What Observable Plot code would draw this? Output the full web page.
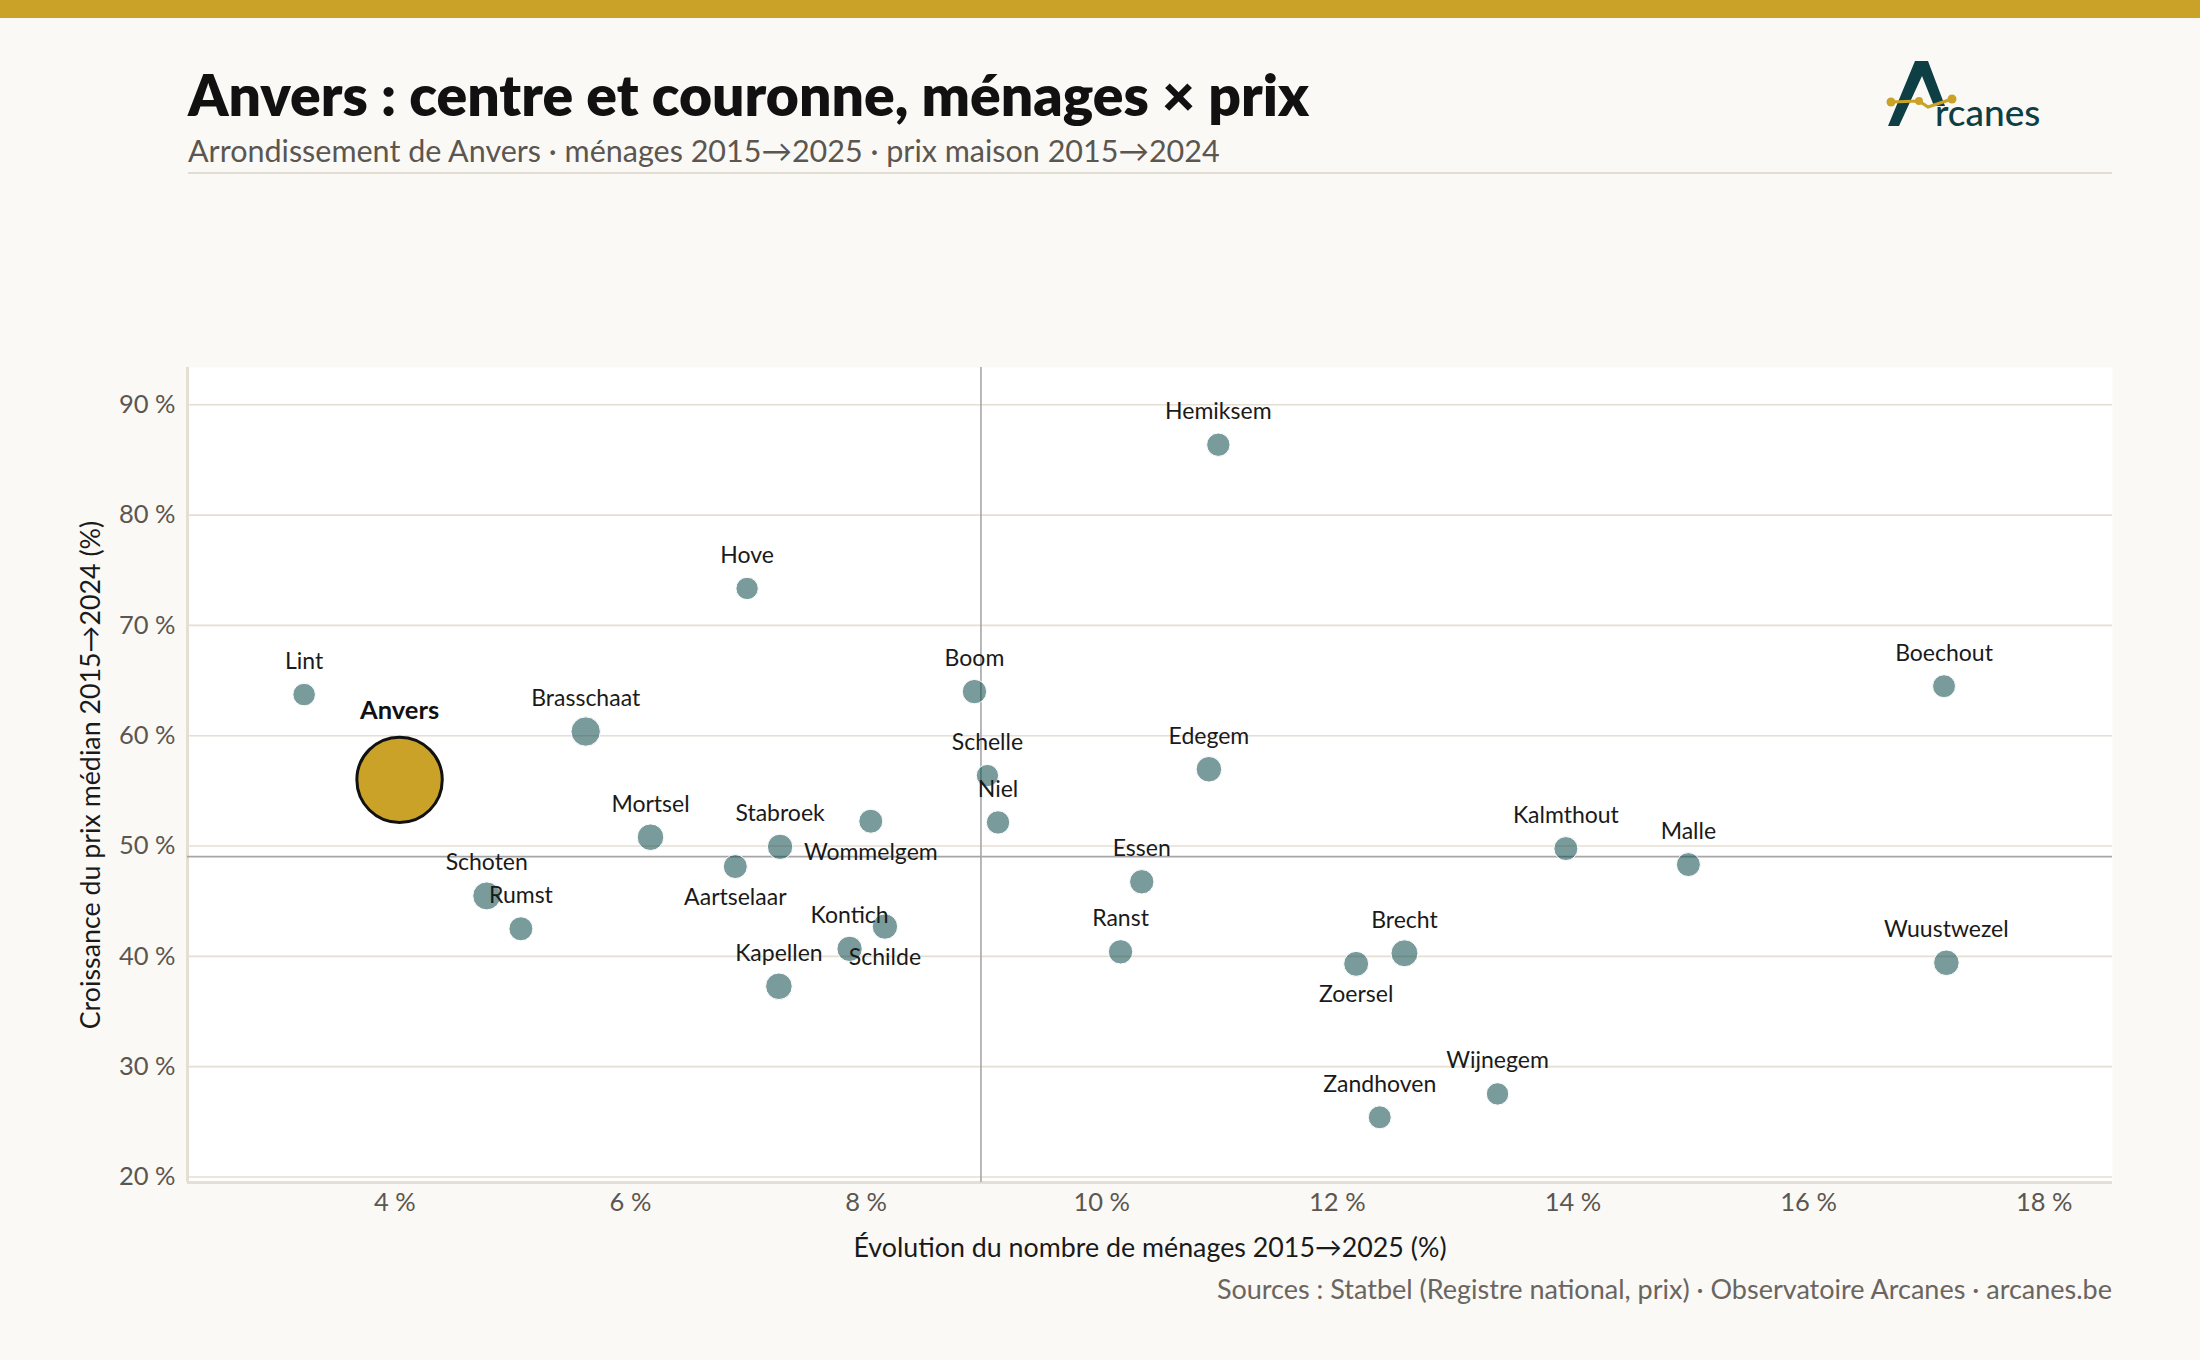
<!DOCTYPE html>
<html><head><meta charset="utf-8">
<script src="https://cdn.jsdelivr.net/npm/d3@7"></script>
<script src="https://cdn.jsdelivr.net/npm/@observablehq/plot@0.6"></script>
<style>
html,body{margin:0;padding:0;background:#faf9f6;}
body{width:2200px;height:1360px;position:relative;overflow:hidden;font-family:Lato,"Noto Sans",sans-serif;}
#topbar{position:absolute;left:0;top:0;width:2200px;height:18px;background:#c9a227;}
#title{position:absolute;left:188px;top:66px;font-size:57px;line-height:57px;font-weight:800;color:#111;white-space:nowrap;}
#subtitle{position:absolute;left:188px;top:135px;font-size:30.5px;line-height:30.5px;color:#5c5650;white-space:nowrap;}
#rule{position:absolute;left:188px;top:172px;width:1924px;height:2px;background:#e3ddd1;}
#caption{position:absolute;right:88px;top:1275px;font-size:27px;line-height:27px;color:#6b6560;white-space:nowrap;}
#chart{position:absolute;left:0;top:300px;}
#logo{position:absolute;left:0;top:0;}
</style></head>
<body>
<div id="topbar"></div>
<div id="title">Anvers : centre et couronne, ménages × prix</div>
<div id="subtitle">Arrondissement de Anvers · ménages 2015→2025 · prix maison 2015→2024</div>
<div id="rule"></div>
<svg id="logo" width="2200" height="140">
  <path d="M1888,126 L1915,61 L1928,61 L1945,106 L1934,106 L1922,76 L1899,126 Z" fill="#0d3f45"/>
  <polyline points="1891,102 1919,101 1928,107 1952,99" fill="none" stroke="#c9a227" stroke-width="3"/>
  <circle cx="1891" cy="102" r="4.5" fill="#c9a227"/>
  <circle cx="1919" cy="101" r="4" fill="#c9a227"/>
  <circle cx="1952" cy="99" r="4.5" fill="#c9a227"/>
  <text x="1935" y="126" font-family="Lato, sans-serif" font-size="37" font-weight="500" fill="#0d3f45">rcanes</text>
</svg>
<div id="chart"></div>
<div id="caption">Sources : Statbel (Registre national, prix) · Observatoire Arcanes · arcanes.be</div>
<script>
const communes = ["Anvers","Lint","Brasschaat","Mortsel","Aartselaar","Schoten","Rumst","Stabroek","Wommelgem","Niel","Kontich","Schilde","Kapellen","Hemiksem","Hove","Boom","Schelle","Edegem","Essen","Ranst","Boechout","Wuustwezel","Brecht","Zoersel","Kalmthout","Malle","Wijnegem","Zandhoven"];
const evolMenages = [4.04,3.23,5.62,6.17,6.89,4.78,5.07,7.27,8.04,9.12,7.86,8.16,7.26,10.99,6.99,8.92,9.03,10.91,10.34,10.16,17.15,17.17,12.57,12.16,13.94,14.98,13.36,12.36];
const croissancePrix = [56.0,63.73,60.38,50.8,48.14,45.48,42.5,49.93,52.25,52.14,40.68,42.7,37.29,86.38,73.35,64.0,56.39,56.96,46.76,40.41,64.49,39.42,40.28,39.32,49.77,48.32,27.53,25.41];
const menages2025 = [240000,3720,16000,10600,6000,13200,6000,8400,6000,5000,8400,8400,10600,5000,3400,6700,3300,8750,6700,6700,4350,8750,11300,7700,6000,6000,3500,4350];
const labelsBelow = ["Aartselaar","Wommelgem","Schilde","Zoersel"];
const centre = "Anvers";
const xTicks = [4,6,8,10,12,14,16,18];
const yTicks = [20,30,40,50,60,70,80,90];
const xDomain = [2.24, 18.58];
const yDomain = [19.5, 93.38];

const data = communes.map((c,i)=>({commune:c, x:evolMenages[i], y:croissancePrix[i], m:menages2025[i]}));
const autres = data.filter(d=>d.commune!==centre);
const ville = data.filter(d=>d.commune===centre);
const medX = d3.median(evolMenages), medY = d3.median(croissancePrix);
const pct = d => d + "\u00a0%";
const OFFSET = 14000;

const plot = Plot.plot({
  width: 2200, height: 972,
  marginLeft: 187, marginRight: 88, marginTop: 67, marginBottom: 90,
  style: {fontFamily: "Lato, 'Noto Sans', sans-serif", background: "transparent", overflow: "visible"},
  x: {domain: xDomain},
  y: {domain: yDomain},
  r: {type: "sqrt", transform: v => v + OFFSET, domain: [0, d3.max(menages2025) + OFFSET], range: [0, 42.7]},
  marks: [
    Plot.frame({fill: "white", stroke: null}),
    Plot.gridY(yTicks, {stroke: "#e4ded3", strokeOpacity: 1, strokeWidth: 1.6}),
    Plot.ruleX([xDomain[0]], {stroke: "#e4ded3", strokeWidth: 3}),
    Plot.ruleY([yDomain[0]], {stroke: "#e4ded3", strokeWidth: 3}),
    Plot.ruleX([medX], {stroke: "#a6a6a6", strokeWidth: 1.6}),
    Plot.ruleY([medY], {stroke: "#a6a6a6", strokeWidth: 1.6}),
    Plot.dot(autres, {x: "x", y: "y", r: "m", fill: "#0d4848", fillOpacity: 0.55, stroke: "white", strokeWidth: 1}),
    Plot.dot(ville, {x: "x", y: "y", r: "m", fill: "#c9a227", stroke: "#111", strokeWidth: 3}),
    Plot.text(autres.filter(d=>!labelsBelow.includes(d.commune)), {x: "x", y: "y", text: "commune", dy: -33, fontSize: 23, fill: "#1a1a1a"}),
    Plot.text(autres.filter(d=>labelsBelow.includes(d.commune)), {x: "x", y: "y", text: "commune", dy: 31, fontSize: 23, fill: "#1a1a1a"}),
    Plot.text(ville, {x: "x", y: "y", text: "commune", dy: -69, fontSize: 25.5, fontWeight: "bold", fill: "#111"}),
    Plot.axisX({ticks: xTicks, tickSize: 0, tickPadding: 10, tickFormat: pct, fontSize: 25.5, color: "#5c5650", label: null}),
    Plot.axisY({ticks: yTicks, tickSize: 0, tickPadding: 12, tickFormat: pct, fontSize: 25.5, color: "#5c5650", label: null}),
    Plot.text(["Croissance du prix médian 2015→2024 (%)"], {frameAnchor: "left", dx: -96, rotate: -90, textAnchor: "middle", lineAnchor: "middle", fontSize: 26.8, fill: "#1a1a1a"}),
    Plot.text(["Évolution du nombre de ménages 2015→2025 (%)"], {frameAnchor: "bottom", dy: 66, textAnchor: "middle", lineAnchor: "middle", fontSize: 26.8, fill: "#1a1a1a"})
  ]
});
document.getElementById("chart").appendChild(plot);
</script>
</body></html>
